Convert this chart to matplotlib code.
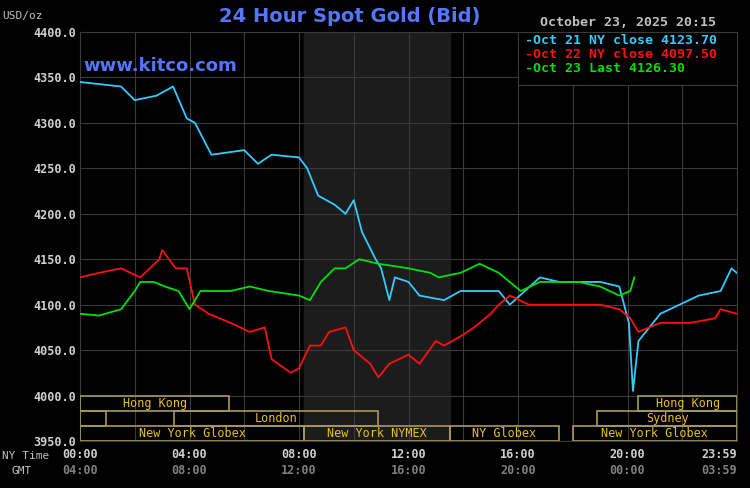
import matplotlib
matplotlib.use("Agg")
import matplotlib.pyplot as plt
from matplotlib.patches import Rectangle

# Oct 21 (blue), hours after 00:00 NY time
blue_h = [0, 1.5, 2.0, 2.8, 3.4, 3.9, 4.2, 4.8, 6.0, 6.5, 7.0, 8.0, 8.3, 8.7, 9.3, 9.7, 10.0, 10.3,
          10.8, 11.0, 11.3, 11.5, 12.0, 12.4, 13.3, 13.9, 15.3, 15.7, 16.8, 17.5, 19.0, 19.7, 20.05,
          20.2, 20.4, 21.2, 21.9, 22.6, 23.4, 23.8, 23.99]
blue_v = [4345, 4340, 4325, 4330, 4340, 4305, 4300, 4265, 4270, 4255, 4265, 4262, 4250, 4220, 4210,
          4200, 4215, 4180, 4150, 4140, 4105, 4130, 4125, 4110, 4105, 4115, 4115, 4100, 4130, 4125,
          4125, 4120, 4080, 4005, 4060, 4090, 4100, 4110, 4115, 4140, 4135]

# Oct 22 (red)
red_h = [0, 0.7, 1.5, 2.2, 2.9, 3.0, 3.5, 3.9, 4.2, 4.7, 5.5, 6.2, 6.75, 7.0, 7.7, 8.0, 8.4, 8.8,
         9.1, 9.7, 10.0, 10.6, 10.9, 11.3, 12.0, 12.4, 13.0, 13.3, 13.9, 14.4, 15.0, 15.3, 15.7,
         16.4, 17.5, 18.2, 19.0, 19.7, 20.1, 20.4, 21.2, 22.3, 23.2, 23.4, 23.99]
red_v = [4130, 4135, 4140, 4130, 4150, 4160, 4140, 4140, 4100, 4090, 4080, 4070, 4075, 4040, 4025,
         4030, 4055, 4055, 4070, 4075, 4050, 4035, 4020, 4035, 4045, 4035, 4060, 4055, 4065, 4075,
         4090, 4100, 4110, 4100, 4100, 4100, 4100, 4095, 4085, 4070, 4080, 4080, 4085, 4095, 4090]

# Oct 23 (green), last at 20:15
green_h = [0, 0.7, 1.5, 2.0, 2.2, 2.7, 3.1, 3.6, 4.0, 4.4, 5.5, 6.2, 6.9, 8.0, 8.4, 8.8, 9.3, 9.7,
           10.2, 10.9, 12.0, 12.8, 13.1, 13.9, 14.6, 15.3, 16.1, 16.8, 18.2, 19.0, 19.7, 20.1, 20.25]
green_v = [4090, 4088, 4095, 4115, 4125, 4125, 4120, 4115, 4095, 4115, 4115, 4120, 4115, 4110, 4105,
           4125, 4140, 4140, 4150, 4145, 4140, 4135, 4130, 4135, 4145, 4135, 4115, 4125, 4125, 4120,
           4110, 4115, 4130]

# sessions: (start h, end h, row, label)
sessions = [(0, 5.45, 0, "Hong Kong"), (20.4, 24, 0, "Hong Kong"),
            (0, 0.95, 1, ""), (3.45, 10.9, 1, "London"), (18.9, 24, 1, "Sydney"),
            (0, 8.2, 2, "New York Globex"), (8.2, 13.5, 2, "New York NYMEX"),
            (13.5, 17.5, 2, "NY Globex"), (18.0, 24, 2, "New York Globex")]

y_ticks = [3950, 4000, 4050, 4100, 4150, 4200, 4250, 4300, 4350, 4400]
x_ticks = [0, 4, 8, 12, 16, 20, 23.983]
ny_labels = ["00:00", "04:00", "08:00", "12:00", "16:00", "20:00", "23:59"]
gmt_labels = ["04:00", "08:00", "12:00", "16:00", "20:00", "00:00", "03:59"]

mono = "DejaVu Sans Mono"
fig = plt.figure(figsize=(7.5, 4.88), dpi=100, facecolor="black")
ax = fig.add_axes([80 / 750, 1 - 441 / 488, 657 / 750, 409 / 488], facecolor="black")
ax.set_xlim(0, 24)
ax.set_ylim(3950, 4400)

ax.axvspan(8.2, 13.5, color="#1c1c1c", zorder=0)
for h in range(0, 25, 2):
    ax.axvline(h, color="#3a3a3a", lw=0.8, zorder=1)
for v in y_ticks:
    ax.axhline(v, color="#3a3a3a", lw=0.8, zorder=1)

row_h = 50 / 3
for s, e, r, lab in sessions:
    y0 = 4000 - (r + 1) * row_h
    ax.add_patch(Rectangle((s, y0), e - s, row_h, fill=False, ec="#a89860", lw=1.2, zorder=3))
    if lab:
        ax.text((s + e) / 2, y0 + row_h / 2, lab, color="#e8c020", fontsize=8.5, family=mono,
                ha="center", va="center", zorder=4)

ax.plot(blue_h, blue_v, color="#33ccff", lw=1.3, zorder=5)
ax.plot(red_h, red_v, color="#ff1010", lw=1.3, zorder=5)
ax.plot(green_h, green_v, color="#00e000", lw=1.3, zorder=6)

ax.set_yticks(y_ticks)
ax.set_yticklabels([f"{v:.1f}" for v in y_ticks], color="#d0d0d0", fontsize=8.5,
                   family=mono, fontweight="bold")
ax.set_xticks(x_ticks)
ax.set_xticklabels(ny_labels, color="#d0d0d0", fontsize=8.5, family=mono, fontweight="bold")
ax.tick_params(axis="y", length=0, pad=3)
ax.tick_params(axis="x", length=0, pad=5)
for lab in ax.get_xticklabels()[-1:]:
    lab.set_ha("right")
    lab.set_x(24)
for sp in ax.spines.values():
    sp.set_color("#3a3a3a")

for i, (x, lab) in enumerate(zip(x_ticks, gmt_labels)):
    ax.text(24 if i == len(x_ticks) - 1 else x, -30 / 409, lab, transform=ax.get_xaxis_transform(),
            color="#808080", fontsize=8.5, family=mono, fontweight="bold",
            ha="right" if i == len(x_ticks) - 1 else "center", va="center")
fig.text(2 / 750, 1 - 456 / 488, "NY Time", color="#c0c0c0", fontsize=8, family=mono, va="center")
fig.text(12 / 750, 1 - 471 / 488, "GMT", color="#c0c0c0", fontsize=8, family=mono, va="center")
fig.text(2 / 750, 1 - 16 / 488, "USD/oz", color="#c0c0c0", fontsize=8, family=mono, va="center")

fig.text(350 / 750, 1 - 17 / 488, "24 Hour Spot Gold (Bid)", color="#5577ff", fontsize=14,
         fontweight="bold", ha="center", va="center")
fig.text(540 / 750, 1 - 23 / 488, "October 23, 2025 20:15", color="#c0c0c0", fontsize=9.5,
         family=mono, fontweight="bold", va="center")
ax.text(0.005, 0.918, "www.kitco.com", transform=ax.transAxes, color="#5577ff", fontsize=13,
        fontweight="bold", va="center")

legend = [("-Oct 21 NY close 4123.70", "#33ccff"), ("-Oct 22 NY close 4097.50", "#ff1010"),
          ("-Oct 23 Last 4126.30", "#00e000")]
ax.add_patch(Rectangle((438 / 657, 0.87), 1 - 438 / 657, 0.13, transform=ax.transAxes, fc="black",
                       ec="#3a3a3a", lw=0.8, zorder=7))
for i, (t, c) in enumerate(legend):
    fig.text(525 / 750, 1 - (40 + i * 14.5) / 488, t, color=c, fontsize=9.5, family=mono,
             fontweight="bold", va="center", zorder=8)

fig.savefig("out.png", dpi=100, facecolor="black")
